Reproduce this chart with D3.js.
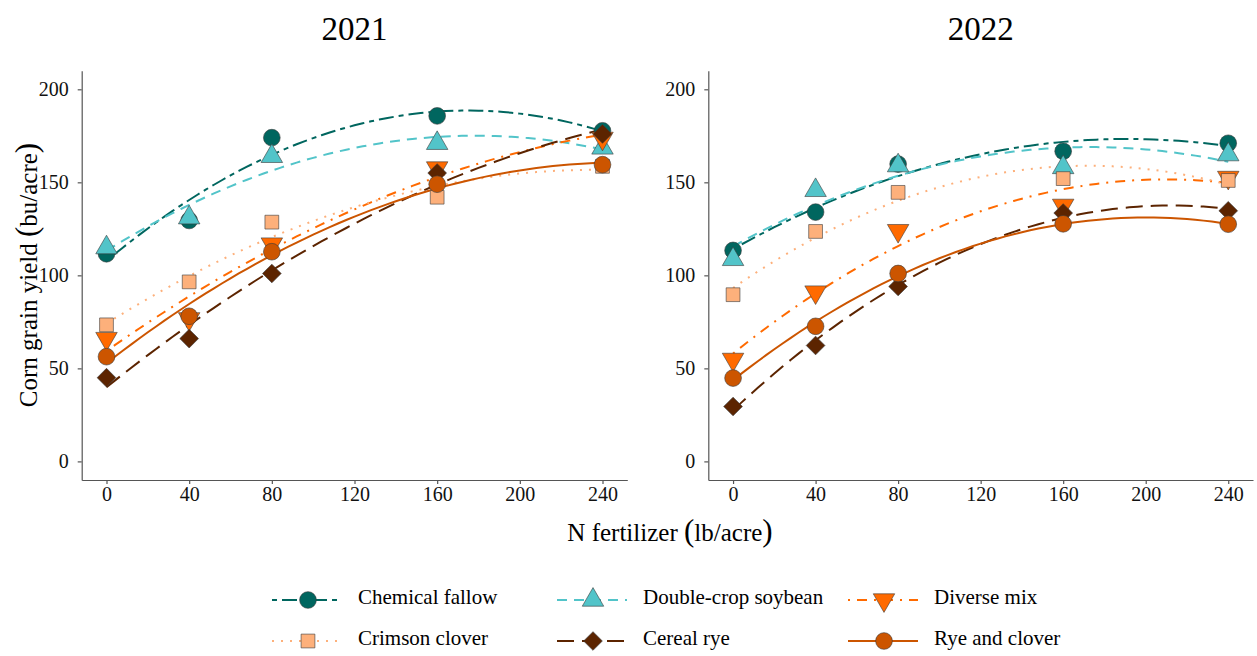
<!DOCTYPE html>
<html>
<meta charset="utf-8">
<head>
<style>
body { margin: 0; background: #fff; }
.axis path, .axis line { stroke: #555; stroke-width: 1.2px; }
</style>
</head>
<body>
<script src="https://cdn.jsdelivr.net/npm/d3@7"></script>
<script>

var FONT = '"Liberation Serif", "Times New Roman", Tinos, "DejaVu Serif", serif';

// N rates and ticks
var nRates = [0, 40, 80, 160, 240];
var xTicks = [0, 40, 80, 120, 160, 200, 240];
var yTicks = [0, 50, 100, 150, 200];
var years = ["2021", "2022"];
var treatments = ["Chemical fallow", "Double-crop soybean", "Diverse mix",
                  "Crimson clover", "Cereal rye", "Rye and clover"];

// mean corn yield (bu/acre)
var fallow2021    = [111.6, 129.5, 174.0, 185.7, 177.7];
var soybean2021   = [114.9, 131.0, 164.0, 171.0, 168.5];
var diverse2021   = [66.0, 76.6, 116.8, 157.7, 173.6];
var crimson2021   = [73.4, 96.5, 128.6, 142.0, 158.6];
var rye2021       = [45.0, 66.0, 101.0, 155.0, 176.0];
var ryeClover2021 = [56.3, 78.0, 112.7, 149.0, 159.5];

var fallow2022    = [113.4, 134.0, 159.8, 166.7, 171.0];
var soybean2022   = [108.6, 145.7, 159.0, 158.0, 164.9];
var diverse2022   = [54.8, 91.0, 124.0, 137.6, 152.6];
var crimson2022   = [89.6, 123.6, 144.6, 152.0, 151.0];
var rye2022       = [29.5, 62.3, 94.0, 133.5, 134.7];
var ryeClover2022 = [44.8, 72.6, 101.0, 127.7, 127.5];

var yields = {
  "2021": [fallow2021, soybean2021, diverse2021, crimson2021, rye2021, ryeClover2021],
  "2022": [fallow2022, soybean2022, diverse2022, crimson2022, rye2022, ryeClover2022]
};

// look of each treatment
var colors = ["#00665f", "#52c4c9", "#ff6a00", "#fdb07b", "#5c2400", "#cc5500"];
var dashes = ["5,5,15,5", "10,7", "2,7,10,7", "2,7", "17,8", null];
var shapes = ["circle", "up", "down", "square", "diamond", "circle"];

var W = 1257, H = 656;
var svg = d3.select("body").append("svg")
    .attr("width", W)
    .attr("height", H);

var panels = [
  {year: "2021", x0: 81.7, x1: 627.3},
  {year: "2022", x0: 708.3, x1: 1253}
];

var y = d3.scaleLinear().domain([-10, 210]).range([480, 70.7]);

// quadratic least squares fit (like geom_smooth with poly 2)
function quadFit(xs, ys) {
  var n = xs.length, s = [0,0,0,0,0], t = [0,0,0];
  for (var i = 0; i < n; i++) {
    var p = 1;
    for (var k = 0; k < 5; k++) { s[k] += p; if (k < 3) t[k] += p * ys[i]; p *= xs[i]; }
  }
  var A = [[s[0], s[1], s[2], t[0]], [s[1], s[2], s[3], t[1]], [s[2], s[3], s[4], t[2]]];
  for (var c = 0; c < 3; c++) {
    for (var r = c + 1; r < 3; r++) {
      var f = A[r][c] / A[c][c];
      for (var j = c; j < 4; j++) A[r][j] -= f * A[c][j];
    }
  }
  var b = [0,0,0];
  for (var r2 = 2; r2 >= 0; r2--) {
    var v = A[r2][3];
    for (var j2 = r2 + 1; j2 < 3; j2++) v -= A[r2][j2] * b[j2];
    b[r2] = v / A[r2][r2];
  }
  return function(x) { return b[0] + b[1] * x + b[2] * x * x; };
}

function symbolPath(shape) {
  if (shape == "circle") return d3.symbol(d3.symbolCircle, 220)();
  if (shape == "up" || shape == "down") return d3.symbol(d3.symbolTriangle, 200)();
  if (shape == "square") return d3.symbol(d3.symbolSquare, 190)();
  return d3.symbol(d3.symbolSquare, 175)();
}
function symbolRotate(shape) {
  if (shape == "down") return " rotate(180)";
  if (shape == "diamond") return " rotate(45)";
  return "";
}

panels.forEach(function(p) {
  var x = d3.scaleLinear().domain([-12, 252]).range([p.x0, p.x1]);
  var g = svg.append("g");

  g.append("g")
    .attr("class", "axis")
    .attr("transform", "translate(0,480)")
    .call(d3.axisBottom(x).tickValues(xTicks).tickSize(4).tickSizeOuter(0).tickPadding(3));

  g.append("g")
    .attr("class", "axis")
    .attr("transform", "translate(" + p.x0 + ",0)")
    .call(d3.axisLeft(y).tickValues(yTicks).tickSize(4).tickSizeOuter(0).tickPadding(9));

  g.selectAll(".axis text")
    .style("font-family", FONT)
    .style("font-size", "20px")
    .style("fill", "#111");

  g.append("text")
    .attr("x", (p.x0 + p.x1) / 2)
    .attr("y", 40)
    .style("text-anchor", "middle")
    .style("font-family", FONT)
    .style("font-size", "33px")
    .text(p.year);

  var line = d3.line()
    .x(function(d) { return x(d[0]); })
    .y(function(d) { return y(d[1]); });

  var sets = yields[p.year];
  sets.forEach(function(vals, i) {
    var fit = quadFit(nRates, vals);
    var pts = d3.range(0, 241, 4).map(function(n) { return [n, fit(n)]; });
    g.append("path")
      .attr("d", line(pts))
      .style("fill", "none")
      .style("stroke", colors[i])
      .style("stroke-width", 2)
      .style("stroke-dasharray", dashes[i]);
  });

  sets.forEach(function(vals, i) {
    g.selectAll(".pt" + i)
      .data(vals).enter()
      .append("path")
      .attr("d", symbolPath(shapes[i]))
      .attr("transform", function(d, k) {
        return "translate(" + x(nRates[k]) + "," + y(d) + ")" + symbolRotate(shapes[i]);
      })
      .style("fill", colors[i])
      .style("stroke", "#3a3a3a")
      .style("stroke-width", 0.6);
  });
});

// axis titles
svg.append("text")
  .attr("transform", "translate(37,275) rotate(-90)")
  .style("text-anchor", "middle")
  .style("font-family", FONT)
  .style("font-size", "25px")
  .html('Corn grain yield <tspan style="font-size:31px">(</tspan>bu/acre<tspan style="font-size:31px">)</tspan>');

svg.append("text")
  .attr("x", 670)
  .attr("y", 541)
  .style("text-anchor", "middle")
  .style("font-family", FONT)
  .style("font-size", "25px")
  .html('N fertilizer <tspan style="font-size:31px">(</tspan>lb/acre<tspan style="font-size:31px">)</tspan>');

// legend, 3 columns x 2 rows
var legCols = [272, 557, 848];
var legRows = [600, 641];
treatments.forEach(function(name, i) {
  var lx = legCols[i % 3], ly = legRows[Math.floor(i / 3)];
  var lg = svg.append("g");
  lg.append("line")
    .attr("x1", lx).attr("x2", lx + 70)
    .attr("y1", ly).attr("y2", ly)
    .style("stroke", colors[i])
    .style("stroke-width", 2.2)
    .style("stroke-dasharray", dashes[i]);
  lg.append("path")
    .attr("d", symbolPath(shapes[i]))
    .attr("transform", "translate(" + (lx + 36) + "," + ly + ")" + symbolRotate(shapes[i]))
    .style("fill", colors[i])
    .style("stroke", "#3a3a3a")
    .style("stroke-width", 0.6);
  lg.append("text")
    .attr("x", lx + 86)
    .attr("y", ly - 3)
    .attr("dy", "0.35em")
    .style("font-family", FONT)
    .style("font-size", "21px")
    .text(name);
});

</script>
</body>
</html>
